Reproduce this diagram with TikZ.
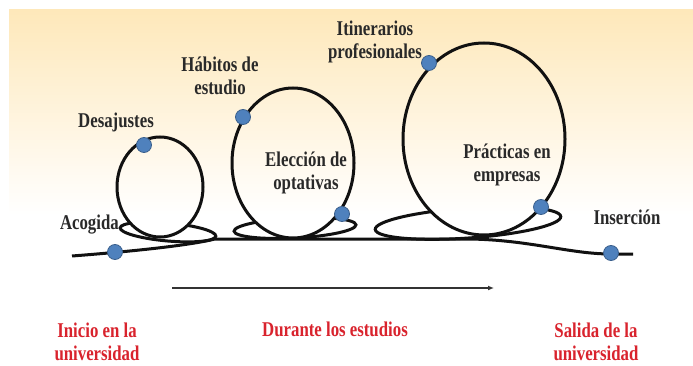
\documentclass[tikz,border=0pt]{standalone}
\usepackage{fontspec}
\setmainfont{Liberation Serif}[FakeStretch=0.8]
\usetikzlibrary{arrows.meta}
\definecolor{Bead}{HTML}{4F81BD}
\definecolor{BeadRim}{HTML}{3A5F8C}
\definecolor{Peach}{HTML}{FEE8BA}
\definecolor{Stage}{HTML}{D9232D}
\definecolor{Ink}{HTML}{111111}
\definecolor{Mute}{HTML}{333333}

\begin{document}
\begin{tikzpicture}[x=1pt,y=-1pt,
  track/.style={Ink,line width=3pt},
  bead/.style={circle,fill=Bead,draw=BeadRim,line width=0.8pt,inner sep=0pt,minimum size=15pt},
  tag/.style={font=\fontsize{21}{23}\selectfont\bfseries,text=Ink!90,align=center,inner sep=0pt},
  stage/.style={tag,text=Stage}]
  \useasboundingbox (0,0) rectangle (693,366);
  \fill[white] (0,0) rectangle (693,366);
  \shade[top color=Peach,bottom color=white] (9,10) rectangle (693,215);
  % the track
  \draw[track] (72,256) .. controls (150,250) and (195,244) .. (215,239)
    -- (470,239) .. controls (530,240) and (570,254) .. (611,254) -- (633,254);
  % loops and their lobes (lobes hidden inside each loop)
  \foreach \cx/\cy/\rx/\ry/\lx/\ly/\lrx/\lry/\rot in {
    160/187/43/50/168/232/48/9/-5,
    293/163/61/75/295/228/61/10/3,
    484/139/81/96/468/223/93/15/4} {
    \begin{scope}[even odd rule]
      \clip (0,0) rectangle (693,366)
        (\cx,\cy) ellipse[x radius=\rx pt,y radius=\ry pt];
      \draw[track] (\lx,\ly) ellipse[x radius=\lrx pt,y radius=\lry pt,rotate=\rot];
    \end{scope}
    \draw[track] (\cx,\cy) ellipse[x radius=\rx pt,y radius=\ry pt];
  }
  % beads on the track
  \node[bead] (acogida) at (115,252) {};
  \node[bead] (desajustes) at (144,145) {};
  \node[bead] (habitos) at (243,117) {};
  \node[bead] (eleccion) at (342,214) {};
  \node[bead] (itinerarios) at (429,63) {};
  \node[bead] (practicas) at (541,207) {};
  \node[bead] (insercion) at (611,253) {};
  % labels
  \node[tag,anchor=east] (tAcogida) at (119,225) {Acogida};
  \node[tag] (tDesajustes) at (116,122) {Desajustes};
  \node[tag] (tHabitos) at (220,76) {Hábitos de\\estudio};
  \node[tag] (tItinerarios) at (375,42) {Itinerarios\\profesionales};
  \node[tag] (tEleccion) at (306,173) {Elección de\\optativas};
  \node[tag] (tPracticas) at (507,165) {Prácticas en\\empresas};
  \node[tag] (tInsercion) at (627,217) {Inserción};
  % time arrow and stages
  \coordinate (flowStart) at (172,288);
  \coordinate (flowEnd) at (494,288);
  \draw[Mute,line width=1.5pt,-{Latex[length=6pt,width=5pt]}] (flowStart) -- (flowEnd);
  \node[stage] (inicio) at (97,342) {Inicio en la\\universidad};
  \node[stage] (durante) at (335,329) {Durante los estudios};
  \node[stage] (salida) at (596,342) {Salida de la\\universidad};
\end{tikzpicture}
\end{document}
